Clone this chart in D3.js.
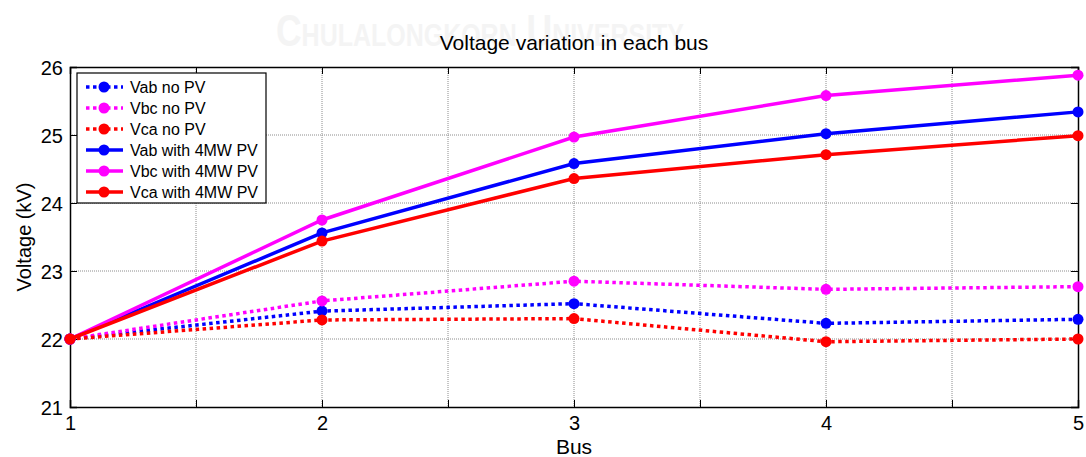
<!DOCTYPE html>
<html>
<head>
<meta charset="utf-8">
<script src="https://cdn.jsdelivr.net/npm/d3@7"></script>
<style>
  body { margin: 0; background: #fff; }
  text { font-family: "Liberation Sans", Arial, sans-serif; fill: #000; }
</style>
</head>
<body>
<script>
// data
var buses = [1, 2, 3, 4, 5];
var vabNoPV = [22.00, 22.41, 22.52, 22.23, 22.29];
var vbcNoPV = [22.00, 22.56, 22.85, 22.73, 22.77];
var vcaNoPV = [22.00, 22.28, 22.30, 21.96, 22.00];
var vabPV = [22.00, 23.56, 24.58, 25.02, 25.34];
var vbcPV = [22.00, 23.75, 24.97, 25.58, 25.88];
var vcaPV = [22.00, 23.44, 24.36, 24.71, 24.99];
var yTicks = [21, 22, 23, 24, 25, 26];
var xTicks = [1, 1.5, 2, 2.5, 3, 3.5, 4, 4.5, 5];

var series = [
	{ name: 'Vab no PV', values: vabNoPV, color: '#0000ff', dotted: true },
	{ name: 'Vbc no PV', values: vbcNoPV, color: '#ff00ff', dotted: true },
	{ name: 'Vca no PV', values: vcaNoPV, color: '#ff0000', dotted: true },
	{ name: 'Vab with 4MW PV', values: vabPV, color: '#0000ff', dotted: false },
	{ name: 'Vbc with 4MW PV', values: vbcPV, color: '#ff00ff', dotted: false },
	{ name: 'Vca with 4MW PV', values: vcaPV, color: '#ff0000', dotted: false }
];

// chart
var W = 1086, H = 457;
var margin = { top: 67, right: 8, bottom: 50, left: 70 };
var width = W - margin.left - margin.right;
var height = H - margin.top - margin.bottom;

var root = d3.select('body').append('svg')
	.attr('width', W)
	.attr('height', H);

// faint watermark
root.append('text')
	.attr('x', 276)
	.attr('y', 46)
	.attr('textLength', 408)
	.attr('lengthAdjust', 'spacingAndGlyphs')
	.style('font-size', '44px')
	.style('font-weight', 'bold')
	.style('font-variant', 'small-caps')
	.style('fill', '#f4f4f4')
	.text('Chulalongkorn University');

var svg = root.append('g')
	.attr('transform', 'translate(' + margin.left + ',' + margin.top + ')');

var x = d3.scaleLinear().domain([1, 5]).range([0, width]);
var y = d3.scaleLinear().domain([21, 26]).range([height, 0]);

// grid
svg.append('g').selectAll('line')
	.data(xTicks.slice(1, -1)).enter()
	.append('line')
	.attr('x1', d => x(d)).attr('x2', d => x(d))
	.attr('y1', 0).attr('y2', height)
	.attr('stroke', '#8c8c8c')
	.attr('stroke-width', 1)
	.attr('stroke-dasharray', '1,1');
svg.append('g').selectAll('line')
	.data(yTicks.slice(1, -1)).enter()
	.append('line')
	.attr('x1', 0).attr('x2', width)
	.attr('y1', d => y(d)).attr('y2', d => y(d))
	.attr('stroke', '#8c8c8c')
	.attr('stroke-width', 1)
	.attr('stroke-dasharray', '1,1');

// axes (inward ticks like matlab)
var x_axis = d3.axisBottom(x).tickValues(xTicks)
	.tickSize(-7).tickPadding(9)
	.tickFormat(d => Number.isInteger(d) ? d : '');
var y_axis = d3.axisLeft(y).tickValues(yTicks)
	.tickSize(-7).tickPadding(7)
	.tickFormat(d3.format('d'));

var gx = svg.append('g')
	.attr('transform', 'translate(0,' + height + ')')
	.call(x_axis);
var gy = svg.append('g').call(y_axis);
svg.append('g')
	.call(d3.axisTop(x).tickValues(xTicks).tickSize(-7).tickFormat(''));
svg.append('g')
	.attr('transform', 'translate(' + width + ',0)')
	.call(d3.axisRight(y).tickValues(yTicks).tickSize(-7).tickFormat(''));

svg.selectAll('.domain').attr('stroke', '#000').attr('stroke-width', 1.5);
svg.selectAll('.tick line').attr('stroke', '#000');
gx.selectAll('text').style('font-size', '20px');
gy.selectAll('text').style('font-size', '20px').attr('dy', '0.36em');

// lines
var line = d3.line()
	.x((d, i) => x(buses[i]))
	.y(d => y(d));

var g = svg.selectAll('.series')
	.data(series).enter()
	.append('g')
	.attr('class', 'series');

g.append('path')
	.attr('d', d => line(d.values))
	.attr('fill', 'none')
	.attr('stroke', d => d.color)
	.attr('stroke-width', 3.5)
	.attr('stroke-dasharray', d => d.dotted ? '3.5,3.5' : null);

g.selectAll('circle')
	.data(d => d.values.map((v, i) => ({ v: v, i: i, color: d.color }))).enter()
	.append('circle')
	.attr('cx', d => x(buses[d.i]))
	.attr('cy', d => y(d.v))
	.attr('r', 5.5)
	.attr('fill', d => d.color);

// labels
root.append('text')
	.attr('x', margin.left + width / 2)
	.attr('y', 50)
	.attr('text-anchor', 'middle')
	.style('font-size', '21px')
	.text('Voltage variation in each bus');
root.append('text')
	.attr('x', margin.left + width / 2)
	.attr('y', 454)
	.attr('text-anchor', 'middle')
	.style('font-size', '21px')
	.text('Bus');
root.append('text')
	.attr('transform', 'translate(31,' + (margin.top + height / 2) + ') rotate(-90)')
	.attr('text-anchor', 'middle')
	.style('font-size', '20px')
	.text('Voltage (kV)');

// legend
var legend = root.append('g').attr('transform', 'translate(77,73)');
legend.append('rect')
	.attr('width', 189).attr('height', 130)
	.attr('fill', '#fff')
	.attr('stroke', '#000')
	.attr('stroke-width', 1.2);
var item = legend.selectAll('.item')
	.data(series).enter()
	.append('g')
	.attr('transform', (d, i) => 'translate(0,' + (14 + i * 21) + ')');
item.append('line')
	.attr('x1', 9).attr('x2', 46)
	.attr('stroke', d => d.color)
	.attr('stroke-width', 3.5)
	.attr('stroke-dasharray', d => d.dotted ? '3.5,3.5' : null);
item.append('circle')
	.attr('cx', 27).attr('r', 5.5)
	.attr('fill', d => d.color);
item.append('text')
	.attr('x', 53).attr('dy', '0.35em')
	.style('font-size', '16px')
	.text(d => d.name);
</script>
</body>
</html>
